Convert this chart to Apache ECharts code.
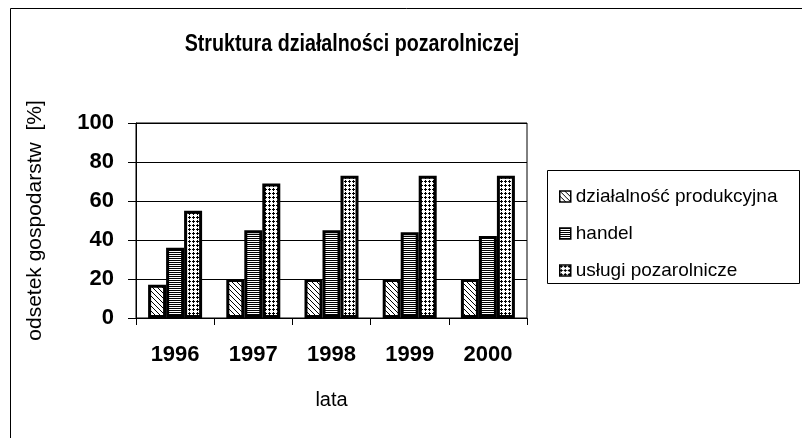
<!DOCTYPE html>
<html><head><meta charset="utf-8">
<script src="https://cdn.jsdelivr.net/npm/echarts@6/dist/echarts.min.js"></script>
<style>html,body{margin:0;padding:0;background:#fff}#c{width:802px;height:438px}</style>
</head><body><div id="c"></div>
<script>
var categories = ['1996','1997','1998','1999','2000'];
var seriesNames = ['działalność produkcyjna','handel','usługi pozarolnicze'];
var produkcyjna = [17, 20, 20, 20, 20];
var handel = [36, 45, 45, 44, 42];
var uslugi = [55, 69, 73, 73, 73];
var yTicks = [0, 20, 40, 60, 80, 100];
var titleText = 'Struktura działalności pozarolniczej';

function pattern(kind){
  var c = document.createElement('canvas');
  var s = kind === 'diag' ? 5 : 4;
  c.width = s; c.height = s;
  var g = c.getContext('2d');
  g.fillStyle = '#fff'; g.fillRect(0,0,s,s);
  g.fillStyle = '#000';
  if (kind === 'diag') {
    for (var i=0;i<s;i++){ g.fillRect(i,i,1,1); }
  } else if (kind === 'horiz') {
    g.fillRect(0,0,s,1); g.fillRect(0,2,s,1);
  } else {
    g.fillRect(1,0,1,3); g.fillRect(0,1,3,1);
  }
  return {image: c, repeat: 'repeat'};
}
var pats = [pattern('diag'), pattern('horiz'), pattern('dots')];
var datas = [produkcyjna, handel, uslugi];

var chart = echarts.init(document.getElementById('c'), null, {renderer:'canvas'});
var FONT = 'Liberation Sans, Arial, sans-serif';
chart.setOption({
  animation: false,
  backgroundColor: '#fff',
  graphic: [
    {type:'line', shape:{x1:10.5, y1:8.5, x2:802, y2:8.5}, style:{stroke:'#000', lineWidth:1}, z:-1},
    {type:'line', shape:{x1:10.5, y1:8.5, x2:10.5, y2:438}, style:{stroke:'#000', lineWidth:1}, z:-1},
    {type:'rect', shape:{x:547.5, y:170.5, width:252, height:113}, style:{fill:'#fff', stroke:'#000', lineWidth:1}, z:0},
    {type:'text', x:352, y:44, scaleX:0.82, scaleY:1,
      style:{text: titleText, fill:'#000', font:'bold 24px Liberation Sans, Arial, sans-serif', textAlign:'center', textVerticalAlign:'middle'}}
  ],
  legend: {
    orient: 'vertical', left: 554, top: 182,
    itemWidth: 11, itemHeight: 11, itemGap: 18,
    icon: 'rect',
    data: seriesNames,
    textStyle: {fontFamily: FONT, fontSize: 19, color: '#000'},
    itemStyle: {borderColor: '#000', borderWidth: 1.5}
  },
  grid: {left: 136, top: 123, right: 275, bottom: 120, show: true, borderColor: '#000', borderWidth: 1},
  xAxis: {
    type: 'category', data: categories,
    name: 'lata', nameLocation: 'middle', nameGap: 72,
    nameTextStyle: {fontFamily: FONT, fontSize: 20, color: '#000'},
    axisLine: {lineStyle: {color: '#000', width: 1}},
    axisTick: {show: true, length: 7, lineStyle: {color: '#000'}},
    axisLabel: {fontFamily: FONT, fontSize: 22, fontWeight: 'bold', color: '#000', margin: 26}
  },
  yAxis: {
    type: 'value', min: 0, max: 100, interval: 20,
    name: 'odsetek gospodarstw  [%]', nameLocation: 'middle', nameGap: 90, nameRotate: 90,
    nameTextStyle: {fontFamily: FONT, fontSize: 21, color: '#000'},
    axisLine: {show: true, lineStyle: {color: '#000', width: 1}},
    axisTick: {show: true, length: 8, lineStyle: {color: '#000'}},
    axisLabel: {fontFamily: FONT, fontSize: 22, fontWeight: 'bold', color: '#000', margin: 22,
      formatter: function(v){ return yTicks.indexOf(v) >= 0 ? String(v) : ''; }},
    splitLine: {show: true, lineStyle: {color: '#000', width: 1}}
  },
  series: seriesNames.map(function(n, i){
    return {
      name: n, type: 'bar', data: datas[i],
      barWidth: 18, barGap: '0%',
      itemStyle: {color: pats[i], borderColor: '#000', borderWidth: 3}
    };
  })
});
</script></body></html>
